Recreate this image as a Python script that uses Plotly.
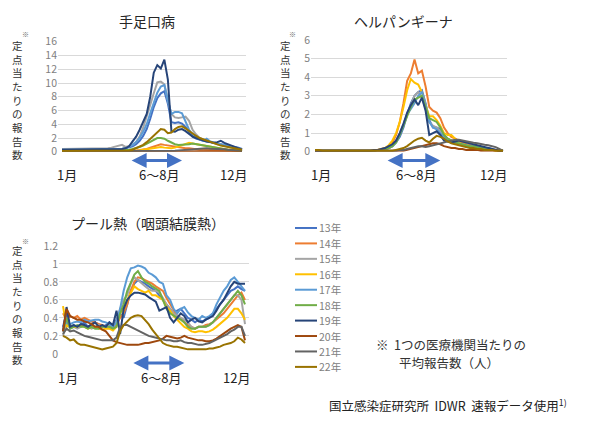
import plotly.graph_objects as go

W, H = 599, 426

# 週番号（1〜52週）
weeks = list(range(1, 53))

years = ["13年", "14年", "15年", "16年", "17年", "18年", "19年", "20年", "21年", "22年"]
colors = ["#4472C4", "#ED7D31", "#A5A5A5", "#FFC000", "#5B9BD5",
          "#70AD47", "#264478", "#9E480E", "#636363", "#997300"]

# 手足口病
hfmd_13 = [0.3, 0.3, 0.3, 0.3, 0.3, 0.3, 0.3, 0.3, 0.3, 0.3, 0.3, 0.3, 0.3,
           0.3, 0.3, 0.3, 0.4, 0.4, 0.5, 0.6, 0.8, 1.1, 1.6, 2.3, 3.3, 4.8,
           6.5, 7.8, 8.5, 8.8, 7.0, 4.3, 4.2, 4.3, 4.1, 3.6, 2.8, 2.2, 1.9,
           1.7, 1.6, 1.5, 1.4, 1.3, 1.2, 1.2, 1.1, 1.0, 0.9, 0.8, 0.6, 0.4]
hfmd_14 = [0.1, 0.1, 0.1, 0.1, 0.1, 0.1, 0.1, 0.1, 0.1, 0.1, 0.1, 0.1, 0.1,
           0.1, 0.1, 0.1, 0.1, 0.1, 0.1, 0.1, 0.15, 0.2, 0.25, 0.3, 0.4, 0.6,
           0.8, 1.0, 1.1, 1.0, 0.9, 0.8, 0.8, 0.7, 0.6, 0.5, 0.5, 0.4, 0.4,
           0.3, 0.3, 0.3, 0.3, 0.2, 0.2, 0.2, 0.2, 0.2, 0.15, 0.1, 0.1, 0.1]
hfmd_15 = [0.4, 0.4, 0.4, 0.4, 0.4, 0.4, 0.4, 0.4, 0.4, 0.4, 0.4, 0.45, 0.5,
           0.5, 0.6, 0.7, 0.9, 1.0, 0.7, 0.8, 1.0, 1.4, 2.2, 3.5, 5.0, 6.8,
           8.5, 10.1, 10.2, 9.8, 7.5, 5.5, 5.0, 4.9, 5.0, 5.1, 4.5, 3.2, 2.5,
           2.0, 1.8, 1.6, 1.4, 1.2, 1.1, 1.0, 0.9, 0.8, 0.7, 0.6, 0.5, 0.3]
hfmd_16 = [0.1, 0.1, 0.1, 0.1, 0.1, 0.1, 0.1, 0.1, 0.1, 0.1, 0.1, 0.1, 0.1,
           0.1, 0.1, 0.1, 0.1, 0.1, 0.1, 0.1, 0.1, 0.15, 0.2, 0.3, 0.4, 0.5,
           0.6, 0.7, 0.7, 0.6, 0.5, 0.5, 0.6, 0.8, 1.0, 1.2, 1.3, 1.2, 1.1,
           1.0, 0.9, 0.8, 0.7, 0.6, 0.5, 0.4, 0.4, 0.3, 0.3, 0.2, 0.2, 0.1]
hfmd_17 = [0.3, 0.3, 0.3, 0.3, 0.3, 0.3, 0.3, 0.3, 0.3, 0.3, 0.3, 0.3, 0.3,
           0.3, 0.3, 0.3, 0.3, 0.4, 0.5, 0.7, 1.0, 1.4, 2.0, 2.9, 4.0, 5.6,
           7.2, 8.6, 9.5, 9.7, 7.5, 5.5, 5.8, 5.8, 5.6, 4.5, 3.2, 2.5, 2.1,
           1.8, 1.6, 1.9, 1.5, 1.3, 1.2, 1.1, 1.0, 0.9, 0.8, 0.7, 0.5, 0.3]
hfmd_18 = [0.2, 0.2, 0.2, 0.2, 0.2, 0.2, 0.2, 0.2, 0.2, 0.2, 0.2, 0.2, 0.2,
           0.2, 0.2, 0.2, 0.2, 0.2, 0.2, 0.3, 0.4, 0.5, 0.7, 0.9, 1.2, 1.5,
           1.8, 2.0, 2.0, 1.9, 1.6, 1.3, 1.1, 1.0, 1.0, 1.0, 1.1, 1.2, 1.1,
           1.0, 0.9, 0.8, 0.7, 0.6, 0.5, 0.4, 0.4, 0.3, 0.3, 0.2, 0.2, 0.1]
hfmd_19 = [0.3, 0.3, 0.3, 0.3, 0.3, 0.3, 0.3, 0.3, 0.3, 0.3, 0.3, 0.3, 0.3,
           0.3, 0.3, 0.3, 0.3, 0.4, 0.5, 0.8, 1.5, 2.2, 3.2, 4.3, 5.5, 8.0,
           11.5, 12.6, 12.1, 13.4, 10.5, 3.0, 2.9, 3.2, 3.3, 3.0, 2.6, 2.2, 2.0,
           1.8, 1.6, 1.5, 1.4, 1.3, 1.4, 1.6, 1.3, 1.1, 1.0, 0.8, 0.6, 0.3]
hfmd_20 = [0.1, 0.1, 0.1, 0.05, 0.05, 0.05, 0.05, 0.05, 0.05, 0.05, 0.05, 0.05, 0.05,
           0.05, 0.05, 0.05, 0.05, 0.05, 0.05, 0.05, 0.05, 0.05, 0.05, 0.05, 0.05, 0.05,
           0.05, 0.05, 0.05, 0.05, 0.05, 0.05, 0.05, 0.05, 0.05, 0.05, 0.05, 0.05, 0.05,
           0.05, 0.05, 0.05, 0.05, 0.05, 0.05, 0.05, 0.05, 0.05, 0.05, 0.05, 0.05, 0.05]
hfmd_21 = [0.05, 0.05, 0.05, 0.05, 0.05, 0.05, 0.05, 0.05, 0.05, 0.05, 0.05, 0.05, 0.05,
           0.05, 0.05, 0.05, 0.05, 0.05, 0.05, 0.05, 0.05, 0.05, 0.05, 0.05, 0.05, 0.05,
           0.05, 0.05, 0.05, 0.05, 0.08, 0.1, 0.15, 0.2, 0.25, 0.3, 0.35, 0.4, 0.45,
           0.5, 0.5, 0.5, 0.45, 0.45, 0.4, 0.4, 0.35, 0.3, 0.3, 0.25, 0.2, 0.1]
hfmd_22 = [0.1, 0.1, 0.1, 0.1, 0.1, 0.1, 0.1, 0.1, 0.1, 0.1, 0.1, 0.1, 0.1,
           0.1, 0.1, 0.1, 0.1, 0.1, 0.1, 0.2, 0.3, 0.5, 0.7, 1.0, 1.4, 1.9,
           2.4, 2.9, 3.3, 3.2, 2.7, 2.8, 3.3, 3.6, 3.7, 3.4, 3.0, 2.6, 2.3,
           2.0, 1.8, 1.6, 1.4, 1.2, 1.0, 0.9, 0.8, 0.7, 0.6, 0.5, 0.4, 0.3]

# ヘルパンギーナ
herp_13 = [0.05, 0.05, 0.05, 0.05, 0.05, 0.05, 0.05, 0.05, 0.05, 0.05, 0.05, 0.05, 0.05,
           0.05, 0.05, 0.05, 0.05, 0.1, 0.1, 0.15, 0.2, 0.3, 0.5, 0.8, 1.3, 2.0,
           2.6, 3.0, 3.2, 3.3, 2.6, 1.7, 1.3, 1.3, 1.2, 0.9, 0.7, 0.6, 0.55,
           0.5, 0.45, 0.4, 0.35, 0.3, 0.3, 0.25, 0.2, 0.2, 0.15, 0.1, 0.1, 0.05]
herp_14 = [0.05, 0.05, 0.05, 0.05, 0.05, 0.05, 0.05, 0.05, 0.05, 0.05, 0.05, 0.05, 0.05,
           0.05, 0.05, 0.05, 0.05, 0.1, 0.15, 0.2, 0.3, 0.5, 0.9, 1.6, 2.6, 3.8,
           4.2, 4.95, 4.2, 4.35, 3.5, 2.4, 2.2, 2.1, 1.8, 1.3, 1.0, 0.8, 0.7,
           0.6, 0.5, 0.4, 0.35, 0.3, 0.25, 0.2, 0.2, 0.15, 0.1, 0.1, 0.05, 0.05]
herp_15 = [0.05, 0.05, 0.05, 0.05, 0.05, 0.05, 0.05, 0.05, 0.05, 0.05, 0.05, 0.05, 0.05,
           0.05, 0.05, 0.05, 0.05, 0.1, 0.1, 0.15, 0.2, 0.3, 0.6, 1.0, 1.5, 2.1,
           2.6, 3.0, 3.2, 2.9, 2.3, 1.6, 1.4, 1.3, 1.1, 0.8, 0.7, 0.6, 0.5,
           0.45, 0.4, 0.35, 0.3, 0.3, 0.25, 0.2, 0.2, 0.15, 0.1, 0.1, 0.05, 0.05]
herp_16 = [0.05, 0.05, 0.05, 0.05, 0.05, 0.05, 0.05, 0.05, 0.05, 0.05, 0.05, 0.05, 0.05,
           0.05, 0.05, 0.05, 0.05, 0.1, 0.15, 0.2, 0.35, 0.6, 1.0, 1.6, 2.4, 3.3,
           3.9, 3.7, 3.6, 3.2, 2.5, 1.9, 1.9, 1.7, 1.4, 1.0, 0.9, 0.9, 0.7,
           0.5, 0.4, 0.35, 0.3, 0.25, 0.2, 0.2, 0.15, 0.1, 0.1, 0.05, 0.05, 0.05]
herp_17 = [0.05, 0.05, 0.05, 0.05, 0.05, 0.05, 0.05, 0.05, 0.05, 0.05, 0.05, 0.05, 0.05,
           0.05, 0.05, 0.05, 0.05, 0.1, 0.1, 0.15, 0.2, 0.3, 0.5, 0.9, 1.4, 2.0,
           2.3, 2.6, 3.0, 3.2, 2.5, 1.6, 1.3, 1.2, 1.0, 0.8, 0.6, 0.5, 0.5,
           0.45, 0.4, 0.35, 0.3, 0.3, 0.25, 0.2, 0.2, 0.15, 0.1, 0.1, 0.05, 0.05]
herp_18 = [0.05, 0.05, 0.05, 0.05, 0.05, 0.05, 0.05, 0.05, 0.05, 0.05, 0.05, 0.05, 0.05,
           0.05, 0.05, 0.05, 0.05, 0.1, 0.1, 0.15, 0.2, 0.3, 0.5, 0.9, 1.4, 2.0,
           2.4, 2.8, 2.9, 3.0, 2.4, 1.8, 1.7, 1.6, 1.3, 0.9, 0.7, 0.6, 0.5,
           0.45, 0.4, 0.35, 0.3, 0.3, 0.25, 0.2, 0.2, 0.15, 0.1, 0.1, 0.05, 0.05]
herp_19 = [0.05, 0.05, 0.05, 0.05, 0.05, 0.05, 0.05, 0.05, 0.05, 0.05, 0.05, 0.05, 0.05,
           0.05, 0.05, 0.05, 0.1, 0.1, 0.15, 0.2, 0.3, 0.4, 0.6, 1.0, 1.5, 2.1,
           2.5, 2.8, 2.5, 2.9, 2.2, 0.9, 1.0, 1.1, 0.9, 0.6, 0.55, 0.5, 0.55,
           0.6, 0.55, 0.5, 0.45, 0.4, 0.35, 0.3, 0.25, 0.2, 0.15, 0.1, 0.05, 0.05]
herp_20 = [0.05, 0.05, 0.05, 0.05, 0.05, 0.05, 0.05, 0.05, 0.05, 0.05, 0.05, 0.05, 0.05,
           0.05, 0.05, 0.05, 0.05, 0.05, 0.05, 0.05, 0.05, 0.05, 0.05, 0.05, 0.05, 0.1,
           0.15, 0.2, 0.25, 0.3, 0.35, 0.4, 0.45, 0.45, 0.4, 0.3, 0.25, 0.2, 0.2,
           0.15, 0.15, 0.1, 0.1, 0.1, 0.1, 0.05, 0.05, 0.05, 0.05, 0.05, 0.05, 0.05]
herp_21 = [0.05, 0.05, 0.05, 0.05, 0.05, 0.05, 0.05, 0.05, 0.05, 0.05, 0.05, 0.05, 0.05,
           0.05, 0.05, 0.05, 0.05, 0.05, 0.05, 0.05, 0.05, 0.05, 0.05, 0.1, 0.1, 0.15,
           0.2, 0.25, 0.3, 0.3, 0.25, 0.3, 0.35, 0.4, 0.45, 0.5, 0.55, 0.6, 0.65,
           0.65, 0.6, 0.55, 0.5, 0.48, 0.45, 0.4, 0.38, 0.35, 0.3, 0.25, 0.15, 0.05]
herp_22 = [0.1, 0.1, 0.05, 0.05, 0.05, 0.05, 0.05, 0.05, 0.05, 0.05, 0.05, 0.05, 0.05,
           0.05, 0.05, 0.05, 0.05, 0.05, 0.05, 0.05, 0.05, 0.05, 0.1, 0.15, 0.2, 0.3,
           0.45, 0.6, 0.7, 0.75, 0.6, 0.5, 0.7, 0.85, 0.8, 0.7, 0.55, 0.45, 0.4,
           0.35, 0.3, 0.25, 0.2, 0.2, 0.15, 0.15, 0.1, 0.1, 0.1, 0.05, 0.05, 0.05]

# プール熱（咽頭結膜熱）
pcf_13 = [0.3, 0.45, 0.3, 0.32, 0.3, 0.33, 0.35, 0.3, 0.32, 0.35, 0.33, 0.3, 0.32,
          0.35, 0.3, 0.38, 0.45, 0.4, 0.55, 0.7, 0.78, 0.82, 0.8, 0.78, 0.75, 0.72,
          0.7, 0.65, 0.6, 0.55, 0.5, 0.45, 0.48, 0.5, 0.45, 0.4, 0.38, 0.35, 0.38,
          0.36, 0.38, 0.4, 0.45, 0.5, 0.55, 0.6, 0.65, 0.7, 0.72, 0.75, 0.72, 0.7]
pcf_14 = [0.45, 0.38, 0.42, 0.4, 0.42, 0.38, 0.4, 0.38, 0.36, 0.35, 0.33, 0.32, 0.3,
          0.3, 0.28, 0.32, 0.4, 0.45, 0.55, 0.7, 0.8, 0.85, 0.84, 0.82, 0.8, 0.78,
          0.75, 0.72, 0.7, 0.62, 0.55, 0.48, 0.42, 0.4, 0.35, 0.32, 0.3, 0.28, 0.3,
          0.3, 0.32, 0.33, 0.35, 0.38, 0.42, 0.45, 0.5, 0.55, 0.6, 0.65, 0.68, 0.6]
pcf_15 = [0.2, 0.35, 0.28, 0.3, 0.28, 0.3, 0.32, 0.3, 0.28, 0.3, 0.32, 0.3, 0.3,
          0.32, 0.3, 0.36, 0.5, 0.6, 0.65, 0.78, 0.85, 0.82, 0.78, 0.75, 0.72, 0.7,
          0.7, 0.68, 0.62, 0.55, 0.5, 0.45, 0.42, 0.4, 0.38, 0.35, 0.3, 0.28, 0.3,
          0.3, 0.3, 0.32, 0.35, 0.4, 0.45, 0.5, 0.55, 0.6, 0.65, 0.65, 0.6, 0.33]
pcf_16 = [0.53, 0.3, 0.32, 0.3, 0.3, 0.32, 0.3, 0.28, 0.3, 0.3, 0.28, 0.27, 0.28,
          0.28, 0.26, 0.3, 0.45, 0.5, 0.6, 0.68, 0.75, 0.72, 0.7, 0.68, 0.7, 0.65,
          0.65, 0.62, 0.6, 0.52, 0.48, 0.42, 0.38, 0.35, 0.3, 0.28, 0.25, 0.24, 0.25,
          0.25, 0.24, 0.25, 0.27, 0.3, 0.33, 0.36, 0.4, 0.45, 0.5, 0.5, 0.45, 0.38]
pcf_17 = [0.3, 0.35, 0.33, 0.35, 0.36, 0.35, 0.38, 0.36, 0.37, 0.38, 0.38, 0.36, 0.35,
          0.33, 0.3, 0.35, 0.5, 0.7, 0.85, 0.95, 0.96, 0.98, 0.97, 0.95, 0.9, 0.88,
          0.85, 0.8, 0.78, 0.65, 0.6, 0.5, 0.45, 0.5, 0.52, 0.46, 0.42, 0.4, 0.38,
          0.42, 0.4, 0.42, 0.45, 0.55, 0.62, 0.7, 0.75, 0.82, 0.85, 0.8, 0.75, 0.7]
pcf_18 = [0.25, 0.4, 0.28, 0.3, 0.32, 0.3, 0.3, 0.28, 0.3, 0.28, 0.28, 0.3, 0.3,
          0.3, 0.28, 0.3, 0.45, 0.55, 0.7, 0.8, 0.88, 0.92, 0.85, 0.8, 0.78, 0.75,
          0.72, 0.7, 0.6, 0.5, 0.45, 0.42, 0.4, 0.38, 0.35, 0.3, 0.28, 0.28, 0.3,
          0.3, 0.3, 0.32, 0.35, 0.4, 0.45, 0.5, 0.55, 0.6, 0.65, 0.7, 0.65, 0.55]
pcf_19 = [0.25, 0.52, 0.3, 0.32, 0.3, 0.33, 0.32, 0.3, 0.33, 0.35, 0.3, 0.32, 0.3,
          0.35, 0.32, 0.48, 0.22, 0.5, 0.6, 0.65, 0.68, 0.68, 0.67, 0.66, 0.63, 0.6,
          0.58, 0.48, 0.5, 0.52, 0.4, 0.35, 0.4, 0.45, 0.42, 0.35, 0.38, 0.4, 0.36,
          0.35, 0.38, 0.4, 0.42, 0.48, 0.55, 0.6, 0.68, 0.75, 0.8, 0.78, 0.78, 0.78]
pcf_20 = [0.25, 0.5, 0.42, 0.4, 0.38, 0.38, 0.36, 0.35, 0.33, 0.3, 0.3, 0.27, 0.25,
          0.2, 0.15, 0.13, 0.12, 0.11, 0.1, 0.1, 0.1, 0.1, 0.11, 0.12, 0.12, 0.13,
          0.14, 0.15, 0.17, 0.2, 0.19, 0.18, 0.17, 0.18, 0.2, 0.18, 0.17, 0.16, 0.15,
          0.15, 0.14, 0.14, 0.15, 0.17, 0.2, 0.22, 0.25, 0.28, 0.3, 0.32, 0.3, 0.15]
pcf_21 = [0.22, 0.28, 0.25, 0.26, 0.24, 0.22, 0.2, 0.19, 0.18, 0.17, 0.16, 0.15, 0.15,
          0.15, 0.15, 0.18, 0.3, 0.32, 0.32, 0.3, 0.28, 0.26, 0.24, 0.22, 0.2, 0.19,
          0.18, 0.17, 0.16, 0.15, 0.15, 0.14, 0.14, 0.15, 0.13, 0.12, 0.12, 0.11, 0.1,
          0.1, 0.11, 0.12, 0.14, 0.16, 0.18, 0.2, 0.22, 0.25, 0.27, 0.3, 0.3, 0.2]
pcf_22 = [0.2, 0.18, 0.15, 0.16, 0.12, 0.1, 0.1, 0.09, 0.08, 0.07, 0.06, 0.05, 0.06,
          0.07, 0.08, 0.12, 0.25, 0.32, 0.36, 0.4, 0.42, 0.43, 0.42, 0.38, 0.33, 0.27,
          0.22, 0.16, 0.12, 0.1, 0.09, 0.08, 0.08, 0.07, 0.06, 0.05, 0.05, 0.05, 0.05,
          0.05, 0.05, 0.06, 0.06, 0.07, 0.08, 0.1, 0.11, 0.12, 0.14, 0.18, 0.16, 0.12]

hfmd = [hfmd_13, hfmd_14, hfmd_15, hfmd_16, hfmd_17, hfmd_18, hfmd_19, hfmd_20, hfmd_21, hfmd_22]
herp = [herp_13, herp_14, herp_15, herp_16, herp_17, herp_18, herp_19, herp_20, herp_21, herp_22]
pcf = [pcf_13, pcf_14, pcf_15, pcf_16, pcf_17, pcf_18, pcf_19, pcf_20, pcf_21, pcf_22]

titles = ["手足口病", "ヘルパンギーナ", "プール熱（咽頭結膜熱）"]
month_labels = ["1月", "6～8月", "12月"]
month_weeks = [2.5, 28.5, 49.5]
summer_weeks = [20.3, 35.0]
y_title = "定点当たりの報告数"

FONT = "Noto Sans CJK JP"


def px(x):
    return x / W


def py(y):
    return 1 - y / H


fig = go.Figure()

panels = [
    # データ, 軸, 各種ピクセル位置
    dict(data=hfmd, ax="x", ay="y", title=titles[0], tx=147, ty=13,
         ytx=17, ytc=95, mark=(25, 27), arrow_y=158, month_y=173),
    dict(data=herp, ax="x2", ay="y2", title=titles[1], tx=403, ty=13,
         ytx=285, ytc=95, mark=(292, 27), arrow_y=158, month_y=173),
    dict(data=pcf, ax="x3", ay="y3", title=titles[2], tx=148, ty=223,
         ytx=17, ytc=308, mark=(25, 241), arrow_y=368, month_y=383),
]

for p in panels:
    for name, col, vals in zip(years, colors, p["data"]):
        fig.add_trace(go.Scatter(
            x=weeks, y=vals, mode="lines", name=name,
            line=dict(color=col, width=2),
            xaxis=p["ax"], yaxis=p["ay"], showlegend=False,
        ))

annotations = []
for p in panels:
    annotations.append(dict(
        text=p["title"], x=px(p["tx"]), y=py(p["ty"]), xref="paper", yref="paper",
        showarrow=False, font=dict(size=14, color="#262626", family=FONT),
        xanchor="center", yanchor="middle"))
    # 縦書きの軸タイトル
    annotations.append(dict(
        text="※", x=px(p["mark"][0]), y=py(p["mark"][1]), xref="paper", yref="paper",
        showarrow=False, font=dict(size=7, color="#666666", family=FONT),
        xanchor="center", yanchor="middle"))
    annotations.append(dict(
        text="<br>".join(y_title), x=px(p["ytx"]), y=py(p["ytc"]),
        xref="paper", yref="paper", showarrow=False,
        font=dict(size=10.5, color="#333333", family=FONT),
        xanchor="center", yanchor="middle"))
    # 月ラベル
    for lab, wk in zip(month_labels, month_weeks):
        annotations.append(dict(
            text=lab, x=wk, y=py(p["month_y"]), xref=p["ax"], yref="paper",
            showarrow=False, font=dict(size=13, color="#222222", family=FONT),
            xanchor="center", yanchor="middle"))
    # 6〜8月の両矢印
    annotations.append(dict(
        text="", x=summer_weeks[1], y=py(p["arrow_y"]), xref=p["ax"], yref="paper",
        ax=summer_weeks[0], ay=0, axref=p["ax"], ayref="pixel",
        showarrow=True, arrowhead=2, startarrowhead=2, arrowside="end+start",
        arrowsize=1, startarrowsize=1, arrowwidth=3, arrowcolor="#4472C4"))

# 凡例（手描き）
shapes = []
for i, (name, col) in enumerate(zip(years, colors)):
    yy = 228 + i * 16
    shapes.append(dict(type="line", xref="paper", yref="paper",
                       x0=px(295), x1=px(317), y0=py(yy), y1=py(yy),
                       line=dict(color=col, width=2)))
    annotations.append(dict(
        text=name, x=px(317), y=py(yy), xref="paper", yref="paper",
        showarrow=False, font=dict(size=10.5, color="#808080", family=FONT),
        xanchor="left", yanchor="middle"))

annotations.append(dict(
    text="※  1つの医療機関当たりの", x=px(374), y=py(349), xref="paper", yref="paper",
    showarrow=False, font=dict(size=12.5, color="#333333", family=FONT),
    xanchor="left", yanchor="middle"))
annotations.append(dict(
    text="平均報告数（人）", x=px(397), y=py(367), xref="paper", yref="paper",
    showarrow=False, font=dict(size=12.5, color="#333333", family=FONT),
    xanchor="left", yanchor="middle"))
annotations.append(dict(
    text="国立感染症研究所  IDWR  速報データ使用<sup>1)</sup>", x=px(327), y=py(412),
    xref="paper", yref="paper", showarrow=False,
    font=dict(size=12.5, color="#222222", family=FONT),
    xanchor="left", yanchor="middle"))

xcommon = dict(showgrid=False, showticklabels=False, zeroline=False, showline=False, ticks="")
ycommon = dict(showgrid=True, gridcolor="#d9d9d9", gridwidth=1, zeroline=False,
               showline=False, ticks="", tickfont=dict(size=10.5, color="#7f7f7f", family=FONT))

fig.update_layout(
    width=W, height=H,
    margin=dict(l=0, r=0, t=0, b=0),
    paper_bgcolor="white", plot_bgcolor="white",
    showlegend=False,
    font=dict(family=FONT),
    xaxis=dict(domain=[px(58), px(246)], range=[-0.133, 53.133], anchor="y", **xcommon),
    yaxis=dict(domain=[py(149), py(35)], range=[0, 16], dtick=2, anchor="x", **ycommon),
    xaxis2=dict(domain=[px(311), px(507)], range=[-0.085, 53.085], anchor="y2", **xcommon),
    yaxis2=dict(domain=[py(149), py(33)], range=[0, 6], dtick=1, anchor="x2", **ycommon),
    xaxis3=dict(domain=[px(59), px(249)], range=[-0.12, 53.12], anchor="y3", **xcommon),
    yaxis3=dict(domain=[py(358.5), py(246.5)], range=[0, 1.2], dtick=0.2, anchor="x3", **ycommon),
    annotations=annotations,
    shapes=shapes,
)

# ページ既定の余白を消して 599x426 にぴったり収める
fig.write_html("out.html", config={"displayModeBar": False},
               post_script="document.body.style.margin='0px';document.body.style.overflow='hidden';")
